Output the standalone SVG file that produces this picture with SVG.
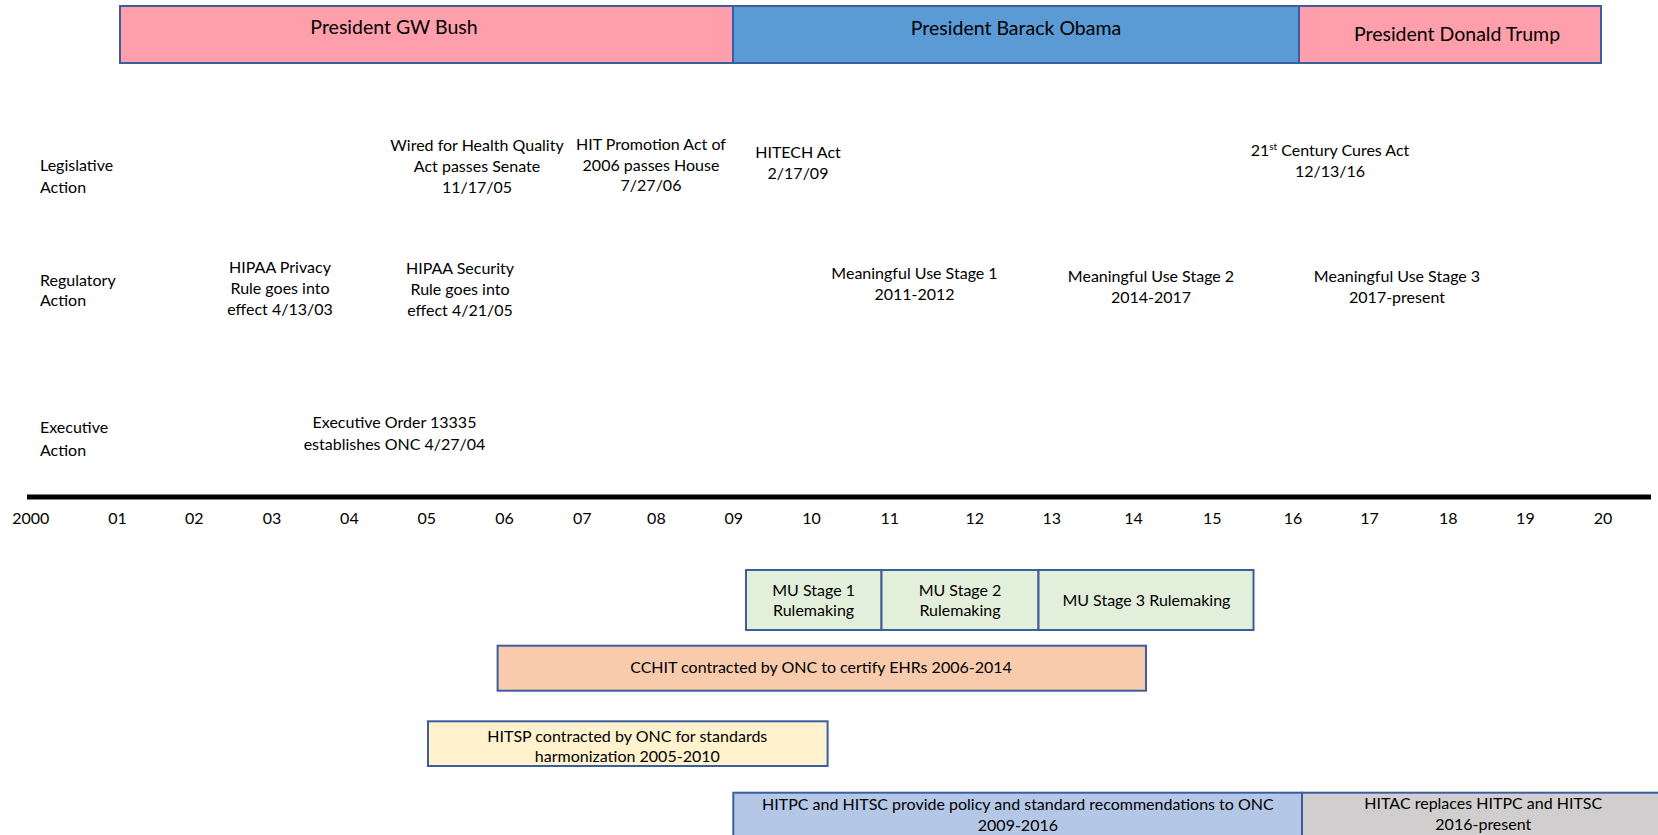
<svg xmlns="http://www.w3.org/2000/svg" width="1658" height="835" viewBox="0 0 1658 835">
<style>
text{font-family:Lato,"Liberation Sans",sans-serif;fill:#000;font-size:16px;text-anchor:middle}
.lbl{text-anchor:start}
.big{font-size:19.5px}
.box{stroke:#3B5E9E;stroke-width:2}
.pres-r{fill:#FF9FAB}
.pres-b{fill:#5B9BD5}
.green{fill:#E2EFDA}
.orange{fill:#F8CBAD}
.yellow{fill:#FFF2CC}
.lblue{fill:#B4C7E7}
.gray{fill:#D0CECE}
</style>
<g id="bush"><rect class="box pres-r" x="120" y="6" width="613" height="57"/><text class="big" x="394" y="34">President GW Bush</text></g>
<g id="obama"><rect class="box pres-b" x="733" y="6" width="566" height="57"/><text class="big" x="1016" y="34.5">President Barack Obama</text></g>
<g id="trump"><rect class="box pres-r" x="1299" y="6" width="302" height="57"/><text class="big" x="1457" y="40.5">President Donald Trump</text></g>

<g id="row-labels">
<text class="lbl" x="40" y="170.5">Legislative</text><text class="lbl" x="40" y="192.5">Action</text>
<text class="lbl" x="40" y="285.5">Regulatory</text><text class="lbl" x="40" y="306">Action</text>
<text class="lbl" x="40" y="432.5">Executive</text><text class="lbl" x="40" y="456">Action</text>
</g>

<g id="wired"><text x="477" y="151">Wired for Health Quality</text><text x="477" y="172">Act passes Senate</text><text x="477" y="193">11/17/05</text></g>
<g id="hitpromo"><text x="651" y="149.5">HIT Promotion Act of</text><text x="651" y="170.5">2006 passes House</text><text x="651" y="191">7/27/06</text></g>
<g id="hitech"><text x="798" y="158">HITECH Act</text><text x="798" y="179">2/17/09</text></g>
<g id="cures"><text x="1330" y="156">21<tspan font-size="10" dy="-6">st</tspan><tspan dy="6"> Century Cures Act</tspan></text><text x="1330" y="177">12/13/16</text></g>

<g id="hipaa-privacy"><text x="280" y="273">HIPAA Privacy</text><text x="280" y="294">Rule goes into</text><text x="280" y="315">effect 4/13/03</text></g>
<g id="hipaa-security"><text x="460" y="274">HIPAA Security</text><text x="460" y="295">Rule goes into</text><text x="460" y="316">effect 4/21/05</text></g>
<g id="mu1"><text x="914.5" y="278.5">Meaningful Use Stage 1</text><text x="914.5" y="300">2011-2012</text></g>
<g id="mu2"><text x="1151" y="282">Meaningful Use Stage 2</text><text x="1151" y="303">2014-2017</text></g>
<g id="mu3"><text x="1397" y="282">Meaningful Use Stage 3</text><text x="1397" y="303">2017-present</text></g>

<g id="exec-order"><text x="394.5" y="428">Executive Order 13335</text><text x="394.5" y="449.5">establishes ONC 4/27/04</text></g>

<g id="connectors"><line x1="27" y1="497" x2="1651" y2="497" stroke="#000" stroke-width="5"/></g>

<g id="years">
<text x="30.7" y="524">2000</text><text x="117.5" y="524">01</text><text x="194.3" y="524">02</text><text x="272" y="524">03</text><text x="349.4" y="524">04</text><text x="426.7" y="524">05</text><text x="504.5" y="524">06</text><text x="582.3" y="524">07</text><text x="656.4" y="524">08</text><text x="733.7" y="524">09</text><text x="811.5" y="524">10</text><text x="889.7" y="524">11</text><text x="974.7" y="524">12</text><text x="1051.8" y="524">13</text><text x="1133.6" y="524">14</text><text x="1212.3" y="524">15</text><text x="1293" y="524">16</text><text x="1369.6" y="524">17</text><text x="1448.3" y="524">18</text><text x="1525.4" y="524">19</text><text x="1603" y="524">20</text>
</g>

<g id="mu1-rule"><rect class="box green" x="746" y="570" width="135.5" height="60"/><text x="813.6" y="595.5">MU Stage 1</text><text x="813.6" y="616">Rulemaking</text></g>
<g id="mu2-rule"><rect class="box green" x="881.5" y="570" width="157" height="60"/><text x="960" y="595.5">MU Stage 2</text><text x="960" y="616">Rulemaking</text></g>
<g id="mu3-rule"><rect class="box green" x="1038.5" y="570" width="215" height="60"/><text x="1146.4" y="605.5">MU Stage 3 Rulemaking</text></g>

<g id="cchit"><rect class="box orange" x="497.6" y="645.7" width="648.4" height="45"/><text x="821" y="673">CCHIT contracted by ONC to certify EHRs 2006-2014</text></g>
<g id="hitsp"><rect class="box yellow" x="428" y="721.3" width="399.6" height="44.7"/><text x="627.3" y="741.5">HITSP contracted by ONC for standards</text><text x="627.3" y="762">harmonization 2005-2010</text></g>
<g id="hitpc"><rect class="box lblue" x="733.3" y="792.7" width="568.7" height="60"/><text x="1017.9" y="810">HITPC and HITSC provide policy and standard recommendations to ONC</text><text x="1017.9" y="830.5">2009-2016</text></g>
<g id="hitac"><rect class="box gray" x="1302" y="792.7" width="370" height="60"/><text x="1483.3" y="809">HITAC replaces HITPC and HITSC</text><text x="1483.3" y="830">2016-present</text></g>
</svg>
